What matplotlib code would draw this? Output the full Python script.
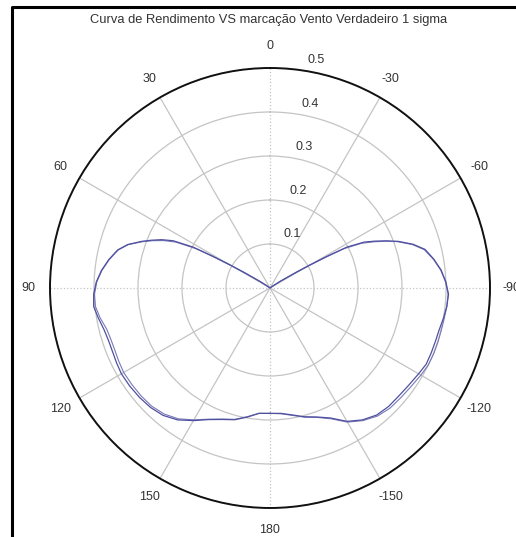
import numpy as np
import matplotlib
matplotlib.use("Agg")
import matplotlib.pyplot as plt
from matplotlib.transforms import offset_copy
from matplotlib.lines import Line2D

plt.rcParams['font.family'] = ['Liberation Sans', 'DejaVu Sans']

title = "Curva de Rendimento VS marcação Vento Verdadeiro 1 sigma"

# True wind bearing (deg) and performance values
bearing = [-180, -175, -170, -165, -160, -155, -150, -145, -140, -135, -130, -125,
           -120, -116, -112, -108, -104, -100, -96, -92, -88, -84, -80, -76, -73,
           -70, -68, -66, -64, -62, -61, -60, -59, -57, -55, -50, -40, -30, -20,
           -10, 0, 10, 20, 30, 40, 50, 55, 57, 59, 60, 61, 62, 64, 66, 68, 70, 73,
           76, 80, 84, 88, 92, 96, 100, 104, 108, 112, 116, 120, 125, 130, 135,
           140, 145, 150, 155, 160, 165, 170, 175, 180]

perf_a = [0.285, 0.286, 0.293, 0.303, 0.312, 0.326, 0.350, 0.366, 0.377, 0.381,
          0.382, 0.385, 0.390, 0.395, 0.395, 0.395, 0.396, 0.400, 0.404, 0.406,
          0.400, 0.391, 0.378, 0.363, 0.340, 0.310, 0.286, 0.262, 0.238, 0.198,
          0.150, 0.105, 0.070, 0.030, 0.010, 0.0, 0.0, 0.0, 0.0,
          0.0, 0.0, 0.0, 0.0, 0.0, 0.0, 0.0, 0.010, 0.030, 0.070, 0.105, 0.150,
          0.198, 0.245, 0.270, 0.290, 0.310, 0.338, 0.357, 0.372, 0.385, 0.395,
          0.401, 0.403, 0.396, 0.389, 0.386, 0.386, 0.388, 0.390, 0.389, 0.387,
          0.384, 0.378, 0.366, 0.348, 0.330, 0.318, 0.310, 0.298, 0.286, 0.285]

perf_b = [0.285, 0.287, 0.294, 0.304, 0.313, 0.328, 0.352, 0.368, 0.380, 0.386,
          0.388, 0.391, 0.396, 0.400, 0.401, 0.401, 0.401, 0.402, 0.404, 0.405,
          0.399, 0.390, 0.377, 0.361, 0.338, 0.308, 0.284, 0.258, 0.232, 0.190,
          0.140, 0.095, 0.060, 0.025, 0.008, 0.0, 0.0, 0.0, 0.0,
          0.0, 0.0, 0.0, 0.0, 0.0, 0.0, 0.0, 0.008, 0.025, 0.062, 0.098, 0.142,
          0.190, 0.238, 0.265, 0.287, 0.308, 0.337, 0.356, 0.371, 0.384, 0.394,
          0.399, 0.399, 0.392, 0.383, 0.380, 0.380, 0.382, 0.384, 0.383, 0.382,
          0.380, 0.374, 0.363, 0.346, 0.329, 0.317, 0.309, 0.297, 0.286, 0.285]

angle_ticks = [0, 30, 60, 90, 120, 150, 180, 210, 240, 270, 300, 330]
angle_labels = ['0', '30', '60', '90', '120', '150', '180',
                '-150', '-120', '-90', '-60', '-30']
radial_ticks = [0.1, 0.2, 0.3, 0.4, 0.5]
radial_labels = ['0.1', '0.2', '0.3', '0.4', '0.5']

dpi = 100
fig = plt.figure(figsize=(5.16, 5.37), dpi=dpi)
ax = fig.add_axes([0.0969, 0.054, 0.8527, 0.8194], projection='polar')
ax.set_theta_zero_location('N')
ax.set_theta_direction(1)
ax.set_ylim(0, 0.5)

th = np.deg2rad(bearing)
ax.plot(th, perf_b, color='#7878b8', lw=0.8, zorder=3)
ax.plot(th, perf_a, color='#5050a0', lw=0.9, zorder=4)

# angular grid: solid spokes, dotted main axes
ax.set_thetagrids(angle_ticks, angle_labels, fontsize=9, color='#333333')
ax.tick_params(axis='x', pad=5)
for ang, gl in zip(angle_ticks, ax.xaxis.get_gridlines()):
    gl.set_color('#c4c4c4')
    gl.set_linewidth(0.9)
    gl.set_linestyle(':' if ang % 90 == 0 else '-')

ax.set_rgrids(radial_ticks, labels=['' for _ in radial_ticks])
for gl in ax.yaxis.get_gridlines():
    gl.set_color('#c4c4c4')
    gl.set_linewidth(0.9)
    gl.set_linestyle('-')

# radial value labels along a slanted line right of the 0 axis
lab_tr = offset_copy(ax.transData, fig=fig, x=16, y=10, units='dots')
for v, s in zip(radial_ticks, radial_labels):
    ax.text(np.deg2rad(-8), v, s, transform=lab_tr, ha='center', va='center',
            fontsize=9, color='#333333')

ax.spines['polar'].set_color('#111111')
ax.spines['polar'].set_linewidth(1.4)

fig.text(269 / 516, 1 - 20 / 537, title, ha='center', va='center',
         fontsize=9.3, color='#333333')

# frame around the figure (left and top edges)
fig.add_artist(Line2D([12 / 516, 12 / 516, 1.0], [0.0, 1 - 7 / 537, 1 - 7 / 537],
                      transform=fig.transFigure, color='black', lw=2.2))

fig.savefig('out.png', dpi=dpi)
